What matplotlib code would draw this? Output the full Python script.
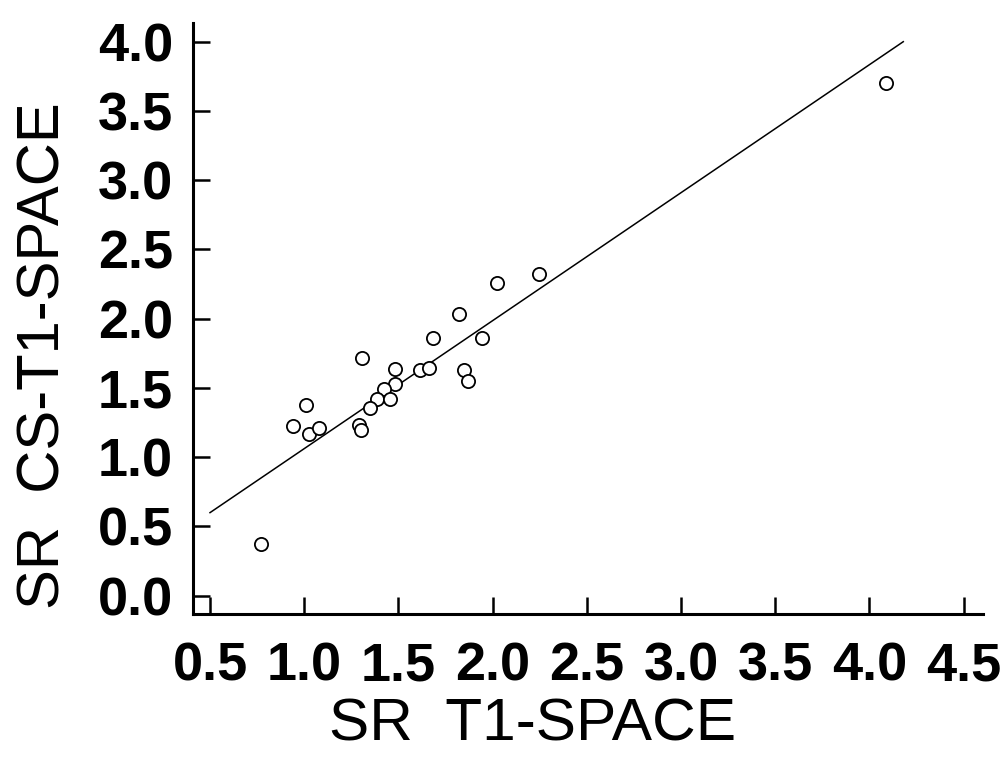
import matplotlib
matplotlib.use('Agg')
import matplotlib.pyplot as plt
import numpy as np

# SR values (x: T1-SPACE, y: CS-T1-SPACE)
sr_t1 = [1.822, 1.685, 1.945, 1.308, 1.482, 1.616, 1.664, 1.850, 1.869, 1.484,
         1.424, 1.385, 1.454, 1.348, 1.010, 0.942, 1.027, 1.079, 1.291, 1.300,
         0.769, 2.025, 2.248, 4.087]
sr_cs = [2.034, 1.863, 1.863, 1.718, 1.639, 1.630, 1.642, 1.630, 1.552, 1.526,
         1.490, 1.422, 1.418, 1.353, 1.377, 1.225, 1.168, 1.213, 1.232, 1.196,
         0.371, 2.256, 2.323, 3.705]

# regression line
slope = 0.924
intercept = 0.138
fit_range = [0.5, 4.18]

xticks = [0.5, 1.0, 1.5, 2.0, 2.5, 3.0, 3.5, 4.0, 4.5]
yticks = [0.0, 0.5, 1.0, 1.5, 2.0, 2.5, 3.0, 3.5, 4.0]

plt.rcParams['font.family'] = ['Liberation Sans', 'DejaVu Sans']

fig = plt.figure(figsize=(10.02, 7.68), dpi=100)
ax = fig.add_axes([0.1923, 0.2005, 0.7887, 0.7695])

fx = np.array(fit_range)
ax.plot(fx, slope * fx + intercept, color='black', lw=1.1)
ax.plot(sr_t1, sr_cs, 'o', ms=9.5, mfc='white', mec='black', mew=1.3)

ax.set_xlim(0.408, 4.603)
ax.set_ylim(-0.132, 4.135)
ax.set_xticks(xticks)
ax.set_yticks(yticks)
ax.set_xticklabels(['%.1f' % t for t in xticks], fontsize=39, fontweight='bold')
ax.set_yticklabels(['%.1f' % t for t in yticks], fontsize=39, fontweight='bold')

for s in ['top', 'right']:
    ax.spines[s].set_visible(False)
for s in ['left', 'bottom']:
    ax.spines[s].set_linewidth(2.2)

ax.tick_params(axis='both', direction='in', length=12, width=1.8)
ax.tick_params(axis='x', pad=20)
ax.tick_params(axis='y', pad=14)

ax.set_xlabel('SR  T1-SPACE', fontsize=43.5, va='baseline', ha='center')
ax.xaxis.set_label_coords(0.430, -0.2132)
ax.set_ylabel('SR  CS-T1-SPACE', fontsize=43, va='baseline', ha='center')
ax.yaxis.set_label_coords(-0.1679, 0.4365)

fig.savefig('out.png', dpi=100)
